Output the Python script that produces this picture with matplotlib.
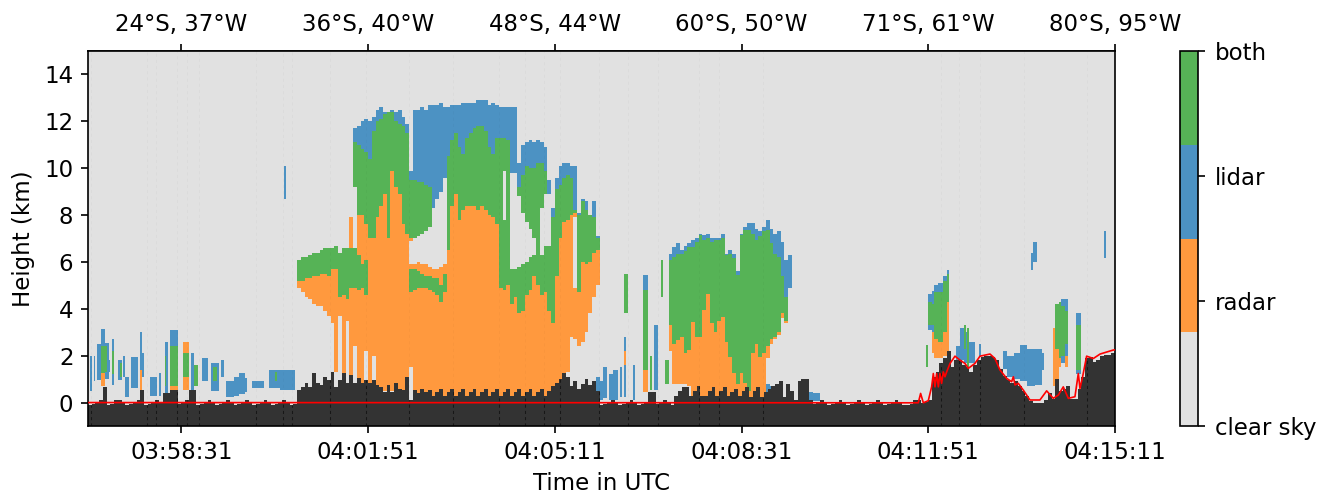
import numpy as np
import matplotlib
matplotlib.use("Agg")
import matplotlib.pyplot as plt
from matplotlib.colors import ListedColormap

# ---------- labels ----------
class_names = ["clear sky", "radar", "lidar", "both"]
class_colors = ["#e1e1e1", "#ff993e", "#4c92c3", "#56b356"]
tick_seconds = [100, 300, 500, 700, 900, 1100]
time_labels = ["03:58:31", "04:01:51", "04:05:11", "04:08:31", "04:11:51", "04:15:11"]
position_labels = ["24°S, 37°W", "36°S, 40°W", "48°S, 44°W", "60°S, 50°W", "71°S, 61°W", "80°S, 95°W"]
CLEAR, RADAR, LIDAR, BOTH = 0, 1, 2, 3

# ---------- main storm, one value every 4 s from t = 224 s (km) ----------
main_start = 224
main_radar_base = [4.9, 4.7, 4.5, 4.4, 4.2, 4.1, 4.1, 3.9, 3.7, 3.4,
                   1.3, 3.7, 1.0, 3.5, 0.5, 2.4, 0.5, 0.5, 2.2, 0.5,
                   2.0, 0.5, 0.5, 0.5, 0.5, 0.5, 0.5, 0.5, 0.5, 0.5,
                   1.5, 0, 0, 0, 0, 0, 0, 0, 0, 0,
                   0, 0, 0, 0, 0, 0, 0, 0, 0, 0,
                   0, 0, 0, 0, 0, 0, 0, 0, 0, 0,
                   0, 0, 0, 0, 0, 0, 0, 0, 0, 0,
                   0, 0, 1.3, 2.8, 2.7, 2.4, 2.6, 3.0, 3.8, 4.5, 5.0]
main_radar_top = [5.2, 5.2, 5.3, 5.3, 5.4, 5.4, 5.5, 5.5, 5.4, 5.7,
                  5.7, 4.5, 4.6, 4.4, 7.9, 4.9, 8.0, 8.0, 7.6, 7.0,
                  7.0, 7.9, 8.4, 8.9, 7.0, 9.9, 9.2, 8.9, 7.6, 7.2,
                  7.0, 7.0, 7.1, 7.2, 7.3, 7.5, 8.3, 8.7, 9.0, 9.6,
                  6.5, 8.4, 8.9, 7.8, 8.2, 8.4, 8.4, 8.4, 8.2, 8.4,
                  8.2, 8.0, 7.9, 7.6, 4.9, 4.8, 5.0, 4.2, 4.5, 3.8,
                  3.9, 4.6, 4.8, 5.4, 5.0, 4.6, 4.7, 3.9, 3.4, 5.4,
                  7.0, 7.7, 7.8, 8.0, 8.1, 4.7, 6.0, 5.9, 6.0, 6.4, 6.5]
main_both_top = [6.1, 6.2, 6.2, 6.3, 6.4, 6.4, 6.5, 6.6, 6.6, 6.6,
                 6.7, 6.4, 6.6, 6.6, 7.9, 11.1, 11.0, 10.8, 10.7, 10.4,
                 11.6, 12.0, 12.1, 12.3, 12.4, 12.4, 12.0, 11.9, 11.8, 11.5,
                 9.5, 9.5, 9.4, 9.4, 9.3, 9.2, 8.3, 8.7, 9.0, 9.6,
                 10.5, 11.2, 11.5, 10.9, 10.6, 11.3, 11.5, 11.7, 11.8, 11.8,
                 11.6, 10.9, 10.6, 11.3, 11.3, 11.3, 11.2, 5.7, 5.7, 9.2,
                 9.7, 10.1, 10.0, 10.0, 10.2, 10.2, 9.9, 8.9, 7.9, 9.1,
                 9.3, 9.6, 9.7, 9.6, 8.2, 8.0, 8.6, 8.2, 8.0, 7.9, 7.0]
main_lidar_top = [6.1, 6.2, 6.2, 6.3, 6.4, 6.4, 6.5, 6.6, 6.6, 6.6,
                  6.7, 6.4, 6.6, 6.6, 7.9, 11.7, 11.8, 12.0, 12.1, 12.0,
                  12.2, 12.5, 12.6, 12.4, 12.4, 12.5, 12.4, 12.5, 12.2, 11.9,
                  9.9, 12.5, 12.5, 12.6, 12.5, 12.7, 12.7, 12.7, 12.8, 12.6,
                  12.6, 12.7, 12.7, 12.7, 12.8, 12.8, 12.8, 12.8, 12.9, 12.9,
                  12.9, 12.7, 12.8, 12.7, 12.6, 12.6, 12.6, 12.6, 12.6, 10.2,
                  11.0, 11.1, 11.2, 11.1, 11.2, 11.1, 10.9, 9.5, 8.3, 9.6,
                  10.1, 10.2, 10.2, 10.1, 10.1, 8.1, 8.7, 8.6, 8.0, 8.6, 7.1]
gap_t = [284, 344, 348, 352, 356, 360, 364, 368, 372, 376, 380, 444,
         452, 456, 460, 464, 468, 472, 476, 484, 488, 492, 520]
gap_base = [6.6, 5.9, 5.9, 6.0, 5.9, 5.9, 5.8, 5.7, 5.7, 5.8, 5.9, 7.8,
            5.7, 5.7, 5.8, 5.9, 6.0, 6.2, 6.3, 6.3, 6.7, 6.7, 4.9]
gap_top = [9.2, 6.9, 7.0, 7.1, 7.2, 7.3, 7.5, 8.3, 8.7, 9.0, 9.6, 9.9,
           9.8, 9.8, 8.8, 8.1, 7.7, 7.4, 7.0, 8.3, 8.9, 8.9, 7.9]
band_t = [280, 288, 292, 296, 344, 348, 352, 356, 360, 364, 368, 372, 376, 380]
band_base = [4.9, 4.8, 4.9, 4.6, 4.7, 4.8, 4.9, 4.9, 4.9, 4.8, 4.7, 4.6, 4.3, 4.7]
band_top = [6.6, 6.3, 5.9, 6.1, 5.7, 5.7, 5.6, 5.5, 5.4, 5.4, 5.3, 5.3, 5.0, 5.5]

# ---------- second storm, one value every 4 s from t = 618 s (km) ----------
second_start = 618
second_radar_base = [1.1, 2.2, 0.8, 0.8, 0.8, 0.8, 0.7, 0, 0, 0,
                     0, 0, 0, 0, 0, 0, 0, 0, 0, 0,
                     0, 0, 0, 0, 0, 0, 0, 1.9, 2.5, 2.7,
                     2.9, 3.6, 3.4, 4.9]
second_radar_top = [0.8, 3.3, 2.5, 2.67, 2.8, 2.1, 2.25, 3.45, 2.8, 2.8,
                    3.95, 4.66, 3.38, 3.0, 3.5, 3.67, 2.6, 1.96, 1.25, 0.8,
                    1.25, 0.83, 0.5, 2.1, 2.5, 1.96, 2.1, 2.4, 2.7, 2.8,
                    3.0, 3.8, 3.5, 4.9]
second_both_top = [1.8, 6.1, 6.2, 6.37, 6.37, 6.45, 6.66, 6.66, 6.87, 7.15,
                   6.94, 7.0, 6.87, 6.94, 6.94, 7.0, 6.3, 6.37, 6.16, 5.45,
                   7.15, 7.35, 7.35, 7.2, 6.94, 7.08, 7.3, 7.35, 6.8, 6.37,
                   6.2, 5.4, 4.5, 4.9]
second_lidar_top = [1.8, 6.37, 6.66, 6.8, 6.5, 6.7, 6.8, 6.94, 7.0, 7.2,
                    7.15, 7.2, 7.0, 7.0, 7.0, 7.2, 6.37, 6.5, 6.37, 5.6,
                    7.2, 7.5, 7.65, 7.65, 7.4, 7.3, 7.5, 7.8, 7.4, 7.2,
                    7.3, 6.87, 6.1, 6.3]

# ---------- isolated clouds: start s, end s, base km, top km, class ----------
patch_t0 = [3, 6, 11, 15, 15, 15, 18, 19, 22, 26, 26, 33, 34, 38, 41, 47, 55.5, 55.5, 58,
            66, 77, 81.5, 82, 88, 89, 88, 103, 103, 103, 111, 115, 122, 132, 135, 142,
            149, 156, 162, 168, 177, 195, 200, 207, 211,
            545, 549, 553, 558, 563, 570, 574, 574, 575, 584, 595, 595, 595, 602, 607, 614,
            723, 730, 737, 763, 770, 777,
            898, 901, 901, 904, 904, 904, 907, 907, 907, 911, 911, 911, 916, 916, 916,
            920, 920, 920, 931, 934, 938, 942, 944, 955, 938,
            980, 985, 992, 999, 1007, 1015, 1022,
            1035, 1037, 1037, 1040, 1040, 1043, 1043, 1047, 1047, 1047, 1059, 1059,
            1011, 1013, 1088]
patch_t1 = [5, 9, 13.5, 18, 18, 18, 22, 21, 24, 28, 28, 36, 36, 40, 45, 54, 58, 58, 61,
            75, 79, 86, 85, 97, 96, 97, 108, 108, 108, 115, 118, 129, 140, 138, 146,
            156, 162, 168, 171, 188, 207, 203, 222, 213,
            548, 552, 557, 562, 569, 573, 577, 577, 578, 587, 600, 600, 600, 605, 611, 616,
            730, 737, 744, 768, 776, 784,
            900, 904, 904, 907, 907, 907, 911, 911, 911, 916, 916, 916, 920, 920, 920,
            923, 923, 923, 934, 938, 942, 944, 950, 957, 941,
            985, 992, 999, 1007, 1015, 1022, 1024,
            1037, 1040, 1040, 1043, 1043, 1047, 1047, 1050, 1050, 1050, 1064, 1064,
            1013, 1016, 1090]
patch_base = [0.5, 0.9, 0.95, 1.25, 1.25, 0.68, 1.0, 1.3, 1.3, 0.75, 1.2, 0.95, 1.1, 1.1, 0.25, 0.6, 1.1, 0.55, 1.1,
              0.3, 0.3, 0.4, 0.7, 0.5, 0.7, 0.4, 0.55, 1.1, 2.1, 0.4, 0.7, 0.9, 0.5, 0.9, 1.1,
              0.25, 0.3, 0.35, 0.45, 0.6, 0.6, 0.9, 0.55, 8.7,
              0.2, 0.1, 0.2, 0.1, 0.1, 0.25, 0.25, 1.6, 3.8, 0.1, 1.4, 1.4, 0.47, 0.55, 0.55, 4.5,
              0.1, 0.1, 0.2, 0.05, 0.05, 0.05,
              1.5, 3.1, 3.3, 3.0, 3.3, 2.1, 1.9, 2.7, 1.9, 1.9, 2.6, 1.9, 2.0, 3.0, 2.0,
              2.1, 4.3, 2.1, 1.6, 1.8, 1.7, 1.5, 1.7, 1.95, 2.3,
              1.45, 1.1, 1.0, 0.9, 0.7, 0.75, 1.4,
              0.7, 1.0, 1.0, 1.9, 1.5, 1.7, 2.0, 2.0, 2.5, 1.5, 1.2, 1.4,
              5.65, 6.0, 6.15]
patch_top = [2.0, 2.0, 2.5, 3.14, 2.4, 1.25, 2.55, 2.4, 1.8, 2.7, 2.2, 1.8, 1.7, 2.0, 1.1, 1.95, 3.0, 1.4, 2.1,
             1.1, 1.25, 2.6, 2.0, 3.1, 2.4, 0.7, 2.6, 2.1, 2.6, 2.1, 1.6, 1.9, 1.7, 1.5, 1.8,
             0.9, 1.1, 1.25, 1.03, 0.9, 1.4, 1.3, 1.4, 10.1,
             1.1, 0.9, 1.5, 1.2, 1.4, 1.5, 2.8, 2.2, 5.5, 1.6, 5.45, 4.8, 1.4, 2.0, 3.3, 6.1,
             0.8, 0.7, 0.8, 0.45, 0.45, 0.4,
             2.45, 4.66, 4.3, 4.75, 4.2, 3.0, 5.0, 4.7, 2.7, 5.1, 4.7, 2.6, 5.4, 5.2, 3.0,
             5.65, 5.5, 4.3, 2.4, 3.2, 3.0, 3.2, 2.6, 2.5, 3.3,
             2.2, 2.0, 2.1, 2.45, 2.3, 2.3, 2.1,
             3.2, 4.2, 2.3, 4.3, 1.9, 4.4, 4.1, 4.4, 3.9, 2.0, 3.8, 3.3,
             6.4, 6.85, 7.3]
patch_class = [2, 2, 2, 2, 3, 1, 2, 3, 2, 2, 3, 2, 3, 2, 2, 2, 2, 1, 2,
               2, 2, 2, 3, 2, 3, 1, 1, 3, 1, 2, 3, 2, 2, 3, 2,
               2, 2, 2, 2, 2, 2, 3, 2, 2,
               2, 2, 2, 2, 2, 2, 2, 1, 3, 2, 2, 3, 1, 3, 2, 3,
               2, 2, 2, 2, 2, 2,
               3, 2, 3, 2, 3, 1, 2, 3, 1, 2, 3, 1, 2, 3, 1,
               2, 3, 1, 2, 2, 2, 3, 2, 2, 3,
               2, 2, 2, 2, 2, 2, 2,
               1, 3, 1, 3, 1, 2, 3, 2, 3, 1, 2, 3,
               2, 2, 2]

# ---------- surface, one value every 4 s (km) ----------
ground_step = 4
ground_left = [-0.1, -0.05, 0.0, 0.1, 0.68, -0.1, -0.05, 0.1, 0.1, 0.0,
               -0.1, -0.05, 0.0, 0.1, 0.55, -0.1, -0.05, 0.0, 0.1, 0.0,
               0.4, 0.4, 0.55, 0.55, -0.05, 0.0, 0.1, 0.55, 0.55, -0.1,
               -0.05, 0.0, 0.1, 0.0, -0.1, -0.05, 0.0, 0.1, 0.0, -0.1,
               -0.05, 0.0, 0.1, 0.0, -0.1, -0.05, 0.0, 0.1, 0.0, -0.1,
               -0.05, 0.0, 0.1, 0.0, -0.1, -0.05]
ground_main = [0.54, 0.68, 0.82, 0.68, 1.25, 0.82, 0.75, 1.1, 0.95, 1.3,
               0.68, 0.95, 1.25, 0.82, 1.18, 0.82, 1.03, 0.82, 0.95, 0.82,
               0.95, 0.75, 0.68, 0.47, 0.75, 0.47, 0.82, 0.6, 0.54, 1.1,
               0.1, 0.54, 0.4, 0.6, 0.47, 0.54, 0.3, 0.45, 0.6, 0.3,
               0.45, 0.6, 0.3, 0.45, 0.6, 0.3, 0.45, 0.6, 0.3, 0.45,
               0.6, 0.3, 0.45, 0.6, 0.3, 0.45, 0.6, 0.3, 0.45, 0.6,
               0.3, 0.45, 0.6, 0.3, 0.45, 0.6, 0.3, 0.5, 0.7, 0.85,
               1.0, 1.25, 1.1, 0.7, 0.9, 0.6, 0.8, 1.0, 0.75, 0.9, 0.5]
ground_mid = [-0.1, -0.05, 0.0, 0.1, 0.0, -0.1, -0.05, 0.0, 0.1, 0.0,
              -0.1, -0.05, 0.0, 0.45, 0.45, -0.05, 0.0, 0.1, 0.0, -0.1,
              0.3, 0.5, 0.68, 0.68, 0.3, 0.5, 0.7, 0.3, 0.3, 0.5,
              0.65, 0.3, 0.5, 0.65, 0.3, 0.45, 0.6, 0.3, 0.5, 0.65,
              0.25, 0.5, 0.65, 0.25, 0.45, 0.6, 0.7, 0.8, 0.9, 0.25,
              0.8, 0.5, 0.1, 0.9, 1.0, 1.0, 0.1, -0.05, 0.0, 0.1]
ground_right = [0.0, -0.1, -0.05, 0.0, 0.1, 0.0, -0.1, -0.05, 0.0, 0.1,
                0.0, -0.1, -0.05, 0.0, 0.1, 0.0, -0.1, -0.05, 0.0, 0.1,
                0.0, -0.1, -0.05, 0.0, 0.1, 0.0, -0.1, -0.05, 0.0, 0.0]
ground_hills = [-0.1, -0.1, -0.05, 0.1, 0.1, 0.0, 0.03, 0.1, 1.1, 1.3,
                1.7, 1.9, 2.2, 1.5, 1.8, 1.8, 1.6, 1.5, 1.3, 1.6,
                1.8, 1.95, 2.0, 2.0, 1.95, 1.8, 1.45, 1.15, 0.95, 0.85,
                0.9, 0.7, 0.5, 0.3, 0.05, 0.0, 0.0, -0.03, 0.1, 0.4,
                0.15, 1.0, 0.5, 0.6, 0.7, 0.15, 0.15, 0.6, 1.1, 1.9,
                1.95, 1.75, 1.8, 2.0, 2.05, 2.05, 2.1]
ground_pieces = [(0, ground_left), (224, ground_main), (548, ground_mid),
                 (788, ground_right), (872, ground_hills)]

# ---------- model surface (red line) ----------
model_t = [0, 869.7, 889.3, 891.8, 894.7, 900, 903.6, 905.4, 907.2, 909, 910.8, 912.5, 914.3, 916.1,
           917.9, 919.7, 923.3, 928.6, 934, 939.3, 942.9, 950, 955.4, 966.1, 971.4, 976.8, 984,
           989.3, 991.1, 992.9, 996.4, 1001.8, 1008.9, 1019.6, 1026.8, 1033.9, 1039.3, 1044.6,
           1050, 1057.1, 1060.7, 1062.5, 1065.3, 1069.6, 1076.8, 1084, 1098, 1100]
model_h = [0.0, -0.01, -0.01, 0.39, -0.01, 0.08, 0.67, 1.24, 0.67, 1.24, 0.67, 1.24, 0.82, 1.31,
           1.1, 1.31, 1.67, 1.98, 1.81, 1.67, 1.46, 1.67, 1.98, 2.07, 1.88, 1.39, 1.03,
           0.89, 1.1, 0.75, 0.82, 0.53, 0.11, 0.11, 0.5, 0.18, 0.32, 0.67,
           0.18, 0.25, 1.24, 0.6, 1.1, 1.98, 1.88, 2.07, 2.24, 2.25]

# ---------- dashed profile markers (s) ----------
marker_t = [3, 63, 73, 95, 106, 119, 180, 209, 219, 259, 298, 344, 391, 440, 468, 488, 506, 547,
            578, 610, 654, 676, 723, 914, 933, 955, 1002, 1070]

# ---------- build the category grid ----------
t_edges = np.arange(0, 1102, 2.0)
h_edges = np.arange(-1, 15.02, 0.05)
t_mid = 0.5 * (t_edges[:-1] + t_edges[1:])
h_mid = 0.5 * (h_edges[:-1] + h_edges[1:])
grid = np.zeros((h_mid.size, t_mid.size), dtype=int)


def paint(t0, t1, base, top, kind):
    cols = (t_mid >= t0) & (t_mid < t1)
    rows = (h_mid >= base) & (h_mid < top)
    grid[np.ix_(rows, cols)] = kind


def paint_stack(start, base, r_top, b_top, l_top):
    for i, (a, b, c, d) in enumerate(zip(base, r_top, b_top, l_top)):
        t0 = start + 4 * i
        paint(t0, t0 + 4, a, b, RADAR)
        paint(t0, t0 + 4, b, c, BOTH)
        paint(t0, t0 + 4, c, d, LIDAR)


for a, b, c, d, e in zip(patch_t0, patch_t1, patch_base, patch_top, patch_class):
    if e == LIDAR:
        paint(a, b, c, d, e)
for a, b, c, d, e in zip(patch_t0, patch_t1, patch_base, patch_top, patch_class):
    if e != LIDAR:
        paint(a, b, c, d, e)

paint_stack(main_start, main_radar_base, main_radar_top, main_both_top, main_lidar_top)
paint_stack(second_start, second_radar_base, second_radar_top, second_both_top, second_lidar_top)
for t, a, b in zip(gap_t, gap_base, gap_top):
    paint(t, t + 4, a, b, CLEAR)
for t, a, b in zip(band_t, band_base, band_top):
    paint(t, t + 4, a, b, BOTH)

ground = np.zeros(275)
for start, values in ground_pieces:
    i0 = start // ground_step
    ground[i0:i0 + len(values)] = values[:275 - i0]
ground_edges = np.arange(276) * ground_step

# ---------- figure ----------
W, H = 1319, 493
fig = plt.figure(figsize=(W / 150, H / 150), dpi=150)
ax = fig.add_axes([88 / W, 1 - 426 / H, 1027 / W, 375 / H])
cmap = ListedColormap(class_colors)
mesh = ax.pcolormesh(t_edges, h_edges, grid, cmap=cmap, vmin=0, vmax=3, shading="flat", rasterized=True)
ax.stairs(ground, ground_edges, baseline=-1, fill=True, color="#333333", lw=0, zorder=2)

ground_at = ground[np.clip((np.array(marker_t) // ground_step).astype(int), 0, 274)]
ax.vlines(marker_t, -1, ground_at, colors="k", lw=0.5, linestyles=(0, (3, 3)), alpha=0.55, zorder=3)
ax.vlines(marker_t, ground_at, 15, colors="k", lw=0.5, linestyles=(0, (3, 3)), alpha=0.025, zorder=3)
ax.plot(model_t, model_h, color="red", lw=0.8, zorder=4)

ax.set_xlim(0, 1100)
ax.set_ylim(-1, 15)
ax.set_yticks(np.arange(0, 15, 2))
ax.set_xticks(tick_seconds)
ax.set_xticklabels(time_labels)
ax.tick_params(labelsize=11)
ax.set_xlabel("Time in UTC", fontsize=11, labelpad=4)
ax.set_ylabel("Height (km)", fontsize=11, labelpad=4.5)
top = ax.secondary_xaxis("top")
top.set_xticks(tick_seconds)
top.set_xticklabels(position_labels)
top.tick_params(labelsize=11)

cax = fig.add_axes([1180 / W, 1 - 426 / H, 18 / W, 375 / H])
cb = fig.colorbar(mesh, cax=cax)
cb.set_ticks([0, 1, 2, 3])
cb.set_ticklabels(class_names)
cb.ax.tick_params(labelsize=11, pad=4.5)

fig.savefig("out.png", dpi=150)
